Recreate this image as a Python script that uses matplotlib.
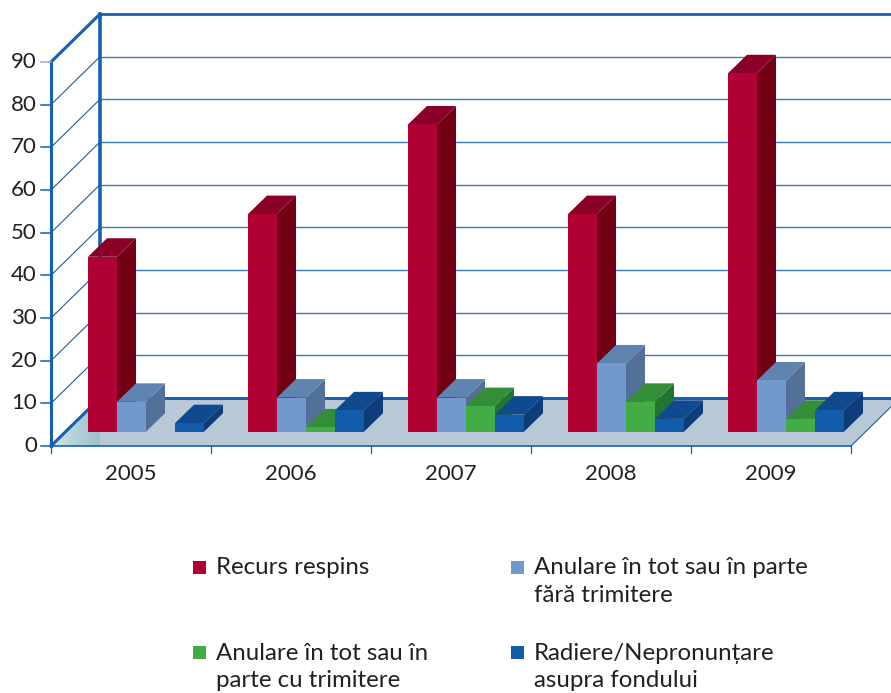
import matplotlib
matplotlib.use("Agg")
import matplotlib.pyplot as plt
from matplotlib.patches import Polygon, Rectangle
from matplotlib.colors import LinearSegmentedColormap
import numpy as np

years = ["2005", "2006", "2007", "2008", "2009"]
series_names = ["Recurs respins", "Anulare în tot sau în parte\nfără trimitere",
                "Anulare în tot sau în\nparte cu trimitere", "Radiere/Nepronunțare\nasupra fondului"]
recurs = [41, 51, 72, 51, 84]
fara = [7, 8, 8, 16, 12]
cu = [0, 1, 6, 7, 3]
radiere = [2, 5, 4, 3, 5]
yticks = [0, 10, 20, 30, 40, 50, 60, 70, 80, 90]

front = ["#B10034", "#7199D0", "#44AC44", "#135CAA"]
top = ["#8A0029", "#5F84B0", "#348E38", "#0F4A8E"]
side = ["#740015", "#527098", "#227530", "#0D3C7C"]
LINE = "#1560B0"
TXT = "#231F20"

W, H = 891, 693
X0, Y0, PXX, PXY = 51, 446, 160, 4.267
plt.rcParams["font.family"] = ["Lato", "DejaVu Sans"]
fig = plt.figure(figsize=(W / 100, H / 100), dpi=100)
ax = fig.add_axes([0, 0, 1, 1])
xlim = (-X0 / PXX, (W - X0) / PXX)
ylim = ((Y0 - H) / PXY, Y0 / PXY)
ax.axis("off")

DX, DY = 49 / PXX, 48 / PXY          # wall depth
BDX, BDY = 19 / PXX, 18.5 / PXY      # bar depth
BX, BY = 37 / PXX, 14.3 / PXY        # bar base offset within the floor
BW = 29 / PXX
XEND = (W - X0) / PXX
YMAX = yticks[-1]

# floor
ax.add_patch(Polygon([(0, 0), (5, 0), (5 + DX, DY), (DX, DY)], fc="#B8C8D6", ec="none", zorder=1))
fade = LinearSegmentedColormap.from_list("fade", ["#E4F0F0", "#9CC2CE"])
im = ax.imshow(np.linspace(0, 1, 64)[None, :] ** 0.6, extent=(0, DX, 0, DY), cmap=fade, aspect="auto",
               interpolation="bilinear", zorder=1.1)
tri = Polygon([(0, 0), (DX, 0), (DX, DY)], transform=ax.transData, fc="none", ec="none")
ax.add_patch(tri)
im.set_clip_path(tri)
ax.set_xlim(*xlim)
ax.set_ylim(*ylim)

# walls
for v in yticks[1:-1]:
    ax.plot([DX, XEND], [v + DY, v + DY], color="#3A78BC", lw=1.0, zorder=2)
    ax.plot([0, DX], [v, v + DY], color=LINE, lw=0.8, zorder=2)
TOPY = (Y0 - 14) / PXY
ax.plot([DX, XEND], [TOPY, TOPY], color=LINE, lw=2.0, zorder=3)
ax.plot([0, DX], [YMAX, TOPY], color=LINE, lw=2.2, zorder=3)
ax.plot([DX, DX], [DY, TOPY], color=LINE, lw=2.6, zorder=3)
ax.plot([0, 0], [0, YMAX], color=LINE, lw=2.2, zorder=3)
ax.plot([DX, 5 + DX], [DY, DY], color=LINE, lw=2.2, zorder=3)
ax.plot([0, DX], [0, DY], color=LINE, lw=2.2, zorder=3)
ax.plot([0, 5], [0, 0], color=LINE, lw=1.2, zorder=3)
ax.plot([5, 5 + DX], [0, DY], color=LINE, lw=0.8, zorder=3)

# ticks
TL = 10 / PXX
for v in yticks:
    col = "#8FB0D8" if v == YMAX else LINE
    ax.plot([-TL, 0], [v, v], color=col, lw=1.1, zorder=3)
    ax.text(-14 / PXX, v, str(v), ha="right", va="center", fontsize=16, color=TXT)
for i in range(len(years) + 1):
    ax.plot([i, i], [0, -7 / PXY], color=LINE, lw=0.9, zorder=3)
for i, y in enumerate(years):
    ax.text(i + 0.5, -27.5 / PXY, y, ha="center", va="center", fontsize=16, color=TXT)

# bars
z = 5
for i in range(len(years)):
    for s, vals in enumerate([recurs, fara, cu, radiere]):
        v = vals[i]
        if v == 0:
            continue
        x = i + BX + s * BW
        b = BY
        t = b + v
        ax.add_patch(Polygon([(x + BW, b), (x + BW + BDX, b + BDY), (x + BW + BDX, t + BDY), (x + BW, t)],
                             fc=side[s], ec="none", zorder=z))
        ax.add_patch(Polygon([(x, t), (x + BW, t), (x + BW + BDX, t + BDY), (x + BDX, t + BDY)],
                             fc=top[s], ec="none", zorder=z))
        ax.add_patch(Rectangle((x, b), BW, v, fc=front[s], ec="none", zorder=z + 0.5))
        z += 1

# legend
leg_pos = [(193, 567), (511, 567), (193, 652), (511, 652)]
for s, name in enumerate(series_names):
    px, py = leg_pos[s]
    x = (px - X0) / PXX
    y = (Y0 - py) / PXY
    ax.add_patch(Rectangle((x, y - 6.5 / PXY), 13 / PXX, 13 / PXY, fc=front[s], ec="none", zorder=3))
    ax.text((px + 23 - X0) / PXX, y + 9.5 / PXY, name, ha="left", va="top", fontsize=17.3,
            color=TXT, linespacing=1.36)

fig.savefig("out.png", dpi=100)
